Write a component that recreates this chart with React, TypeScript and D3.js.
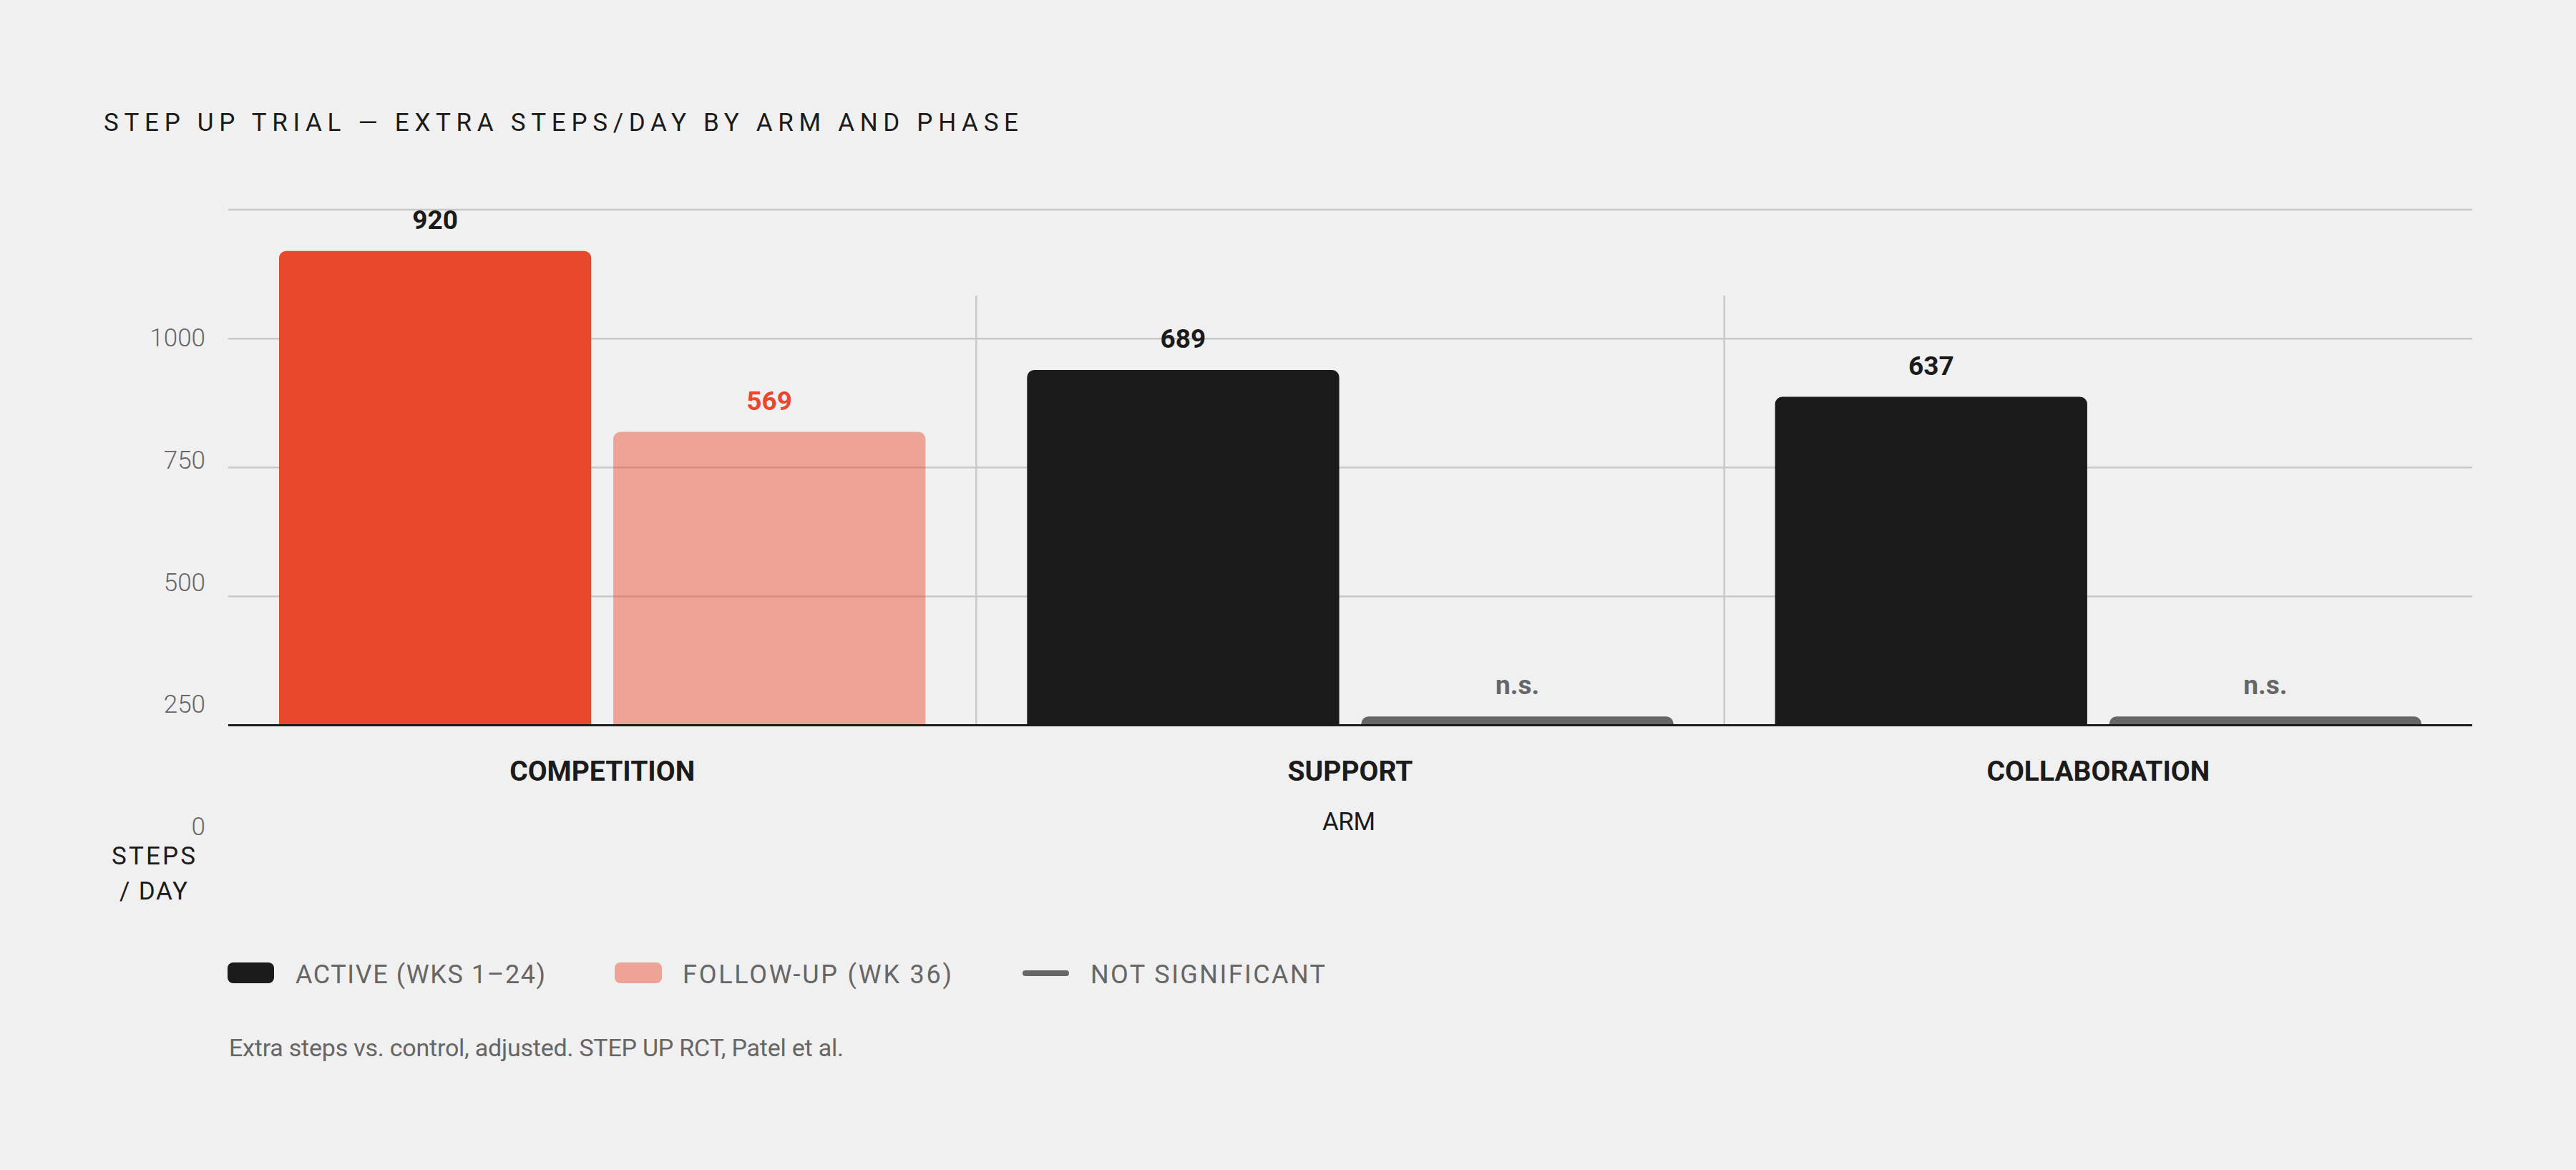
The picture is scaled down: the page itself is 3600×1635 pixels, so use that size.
import React from "react";
import * as d3 from "d3";

const arms = ["COMPETITION", "SUPPORT", "COLLABORATION"];
const phases = ["active", "followUp"];
const activeSteps = [920, 689, 637];
const followUpSteps = [569, 17, 17];
const followUpSignificant = [true, false, false];
const highlightArm = "COMPETITION";
const yTicks = [0, 250, 500, 750, 1000];
const gridTicks = [250, 500, 750, 1000];
const legendLabels = ["ACTIVE (WKS 1–24)", "FOLLOW-UP (WK 36)", "NOT SIGNIFICANT"];

const W = 3600;
const H = 1635;
const BG = "#F0F0F0";
const RED = "#E8482B";
const INK = "#1B1B1B";
const GREY = "#666666";
const GRID = "#C8C8C8";
const FONT = "Roboto, 'Noto Sans', sans-serif";

function topRounded(x: number, y: number, w: number, h: number, r: number) {
  const rr = Math.max(0, Math.min(r, h, w / 2));
  return `M${x},${y + h}V${y + rr}A${rr},${rr} 0 0 1 ${x + rr},${y}H${x + w - rr}A${rr},${rr} 0 0 1 ${x + w},${y + rr}V${y + h}Z`;
}

export default function App() {
  const left = 319;
  const right = 3455;
  const y = d3.scaleLinear().domain([0, 1000]).range([1013.5, 293]);
  // tick labels sit on their own (offset) scale, as in the reference
  const yLab = d3.scaleLinear().domain([0, 1000]).range([1155, 471.5]);
  const x0 = d3.scaleBand<string>().domain(arms).range([left, right]).padding(0);
  const x1 = d3
    .scaleBand<string>()
    .domain(phases)
    .range([0, x0.bandwidth()])
    .paddingInner(0.066)
    .paddingOuter(0.152);

  const bars: any[] = [];
  arms.forEach((arm, i) => {
    const hl = arm === highlightArm;
    bars.push({
      arm,
      phase: "active",
      value: activeSteps[i],
      fill: hl ? RED : INK,
      opacity: 1,
      label: String(activeSteps[i]),
      labelColor: INK,
    });
    const sig = followUpSignificant[i];
    bars.push({
      arm,
      phase: "followUp",
      value: followUpSteps[i],
      fill: sig ? (hl ? RED : INK) : GREY,
      opacity: sig ? 0.45 : 1,
      label: sig ? String(followUpSteps[i]) : "n.s.",
      labelColor: sig ? (hl ? RED : INK) : GREY,
    });
  });

  const sepTop = 413;

  return (
    <svg
      width={W}
      height={H}
      viewBox={`0 0 ${W} ${H}`}
      style={{ position: "absolute", left: 0, top: 0, display: "block", background: BG }}
    >
      <rect x={0} y={0} width={W} height={H} fill={BG} />
      <text
        x={145}
        y={183}
        fontFamily={FONT}
        fontWeight={400}
        fontSize={35}
        fill={INK}
        textLength={1278}
        lengthAdjust="spacing"
      >
        STEP UP TRIAL — EXTRA STEPS/DAY BY ARM AND PHASE
      </text>

      {/* grid */}
      {gridTicks.map((t) => (
        <line key={"g" + t} x1={left} x2={right} y1={y(t)} y2={y(t)} stroke={GRID} strokeWidth={2.5} />
      ))}
      {arms.slice(1).map((a) => (
        <line
          key={"s" + a}
          x1={x0(a)!}
          x2={x0(a)!}
          y1={sepTop}
          y2={y(0)}
          stroke={GRID}
          strokeWidth={2.5}
        />
      ))}

      {/* tick labels */}
      {yTicks.map((t) => (
        <text
          key={"t" + t}
          x={287}
          y={yLab(t)}
          dy="0.35em"
          textAnchor="end"
          fontFamily={FONT}
          fontWeight={300}
          fontSize={35}
          fill={GREY}
        >
          {t}
        </text>
      ))}

      {/* bars */}
      {bars.map((b) => {
        const bx = x0(b.arm)! + x1(b.phase)!;
        const bw = x1.bandwidth();
        const top = y(b.value);
        const h = y(0) - top;
        return (
          <g key={b.arm + b.phase}>
            <path
              d={topRounded(bx, top, bw, h, 10)}
              fill={b.fill}
              fillOpacity={b.opacity}
            />
            <text
              x={bx + bw / 2}
              y={top - 31}
              textAnchor="middle"
              fontFamily={FONT}
              fontWeight={700}
              fontSize={37}
              fill={b.labelColor}
            >
              {b.label}
            </text>
          </g>
        );
      })}

      {/* baseline */}
      <line x1={left} x2={right} y1={y(0)} y2={y(0)} stroke={INK} strokeWidth={3} />

      {/* category labels */}
      {arms.map((a) => (
        <text
          key={"c" + a}
          x={x0(a)! + x0.bandwidth() / 2}
          y={1091}
          textAnchor="middle"
          fontFamily={FONT}
          fontWeight={700}
          fontSize={39}
          fill={INK}
        >
          {a}
        </text>
      ))}

      <text
        x={1848}
        y={1160}
        fontFamily={FONT}
        fontWeight={400}
        fontSize={35}
        fill={INK}
        textLength={74}
        lengthAdjust="spacing"
      >
        ARM
      </text>

      <text x={156} y={1208} fontFamily={FONT} fontWeight={400} fontSize={35} fill={INK} textLength={117} lengthAdjust="spacing">
        STEPS
      </text>
      <text x={167} y={1257} fontFamily={FONT} fontWeight={400} fontSize={35} fill={INK} textLength={95} lengthAdjust="spacing">
        / DAY
      </text>

      {/* legend */}
      <rect x={318} y={1345} width={65} height={29} rx={8} fill={INK} />
      <text x={413} y={1374} fontFamily={FONT} fontWeight={400} fontSize={36} fill={GREY} textLength={349} lengthAdjust="spacing">
        {legendLabels[0]}
      </text>
      <rect x={859} y={1345} width={66} height={29} rx={8} fill={RED} fillOpacity={0.45} />
      <text x={954} y={1374} fontFamily={FONT} fontWeight={400} fontSize={36} fill={GREY} textLength={376} lengthAdjust="spacing">
        {legendLabels[1]}
      </text>
      <line x1={1433} x2={1490} y1={1360} y2={1360} stroke={GREY} strokeWidth={8} strokeLinecap="round" />
      <text x={1524} y={1374} fontFamily={FONT} fontWeight={400} fontSize={36} fill={GREY} textLength={328} lengthAdjust="spacing">
        {legendLabels[2]}
      </text>

      <text x={320} y={1476} fontFamily={FONT} fontWeight={400} fontSize={34} fill={GREY} textLength={859} lengthAdjust="spacing">
        Extra steps vs. control, adjusted. STEP UP RCT, Patel et al.
      </text>
    </svg>
  );
}
